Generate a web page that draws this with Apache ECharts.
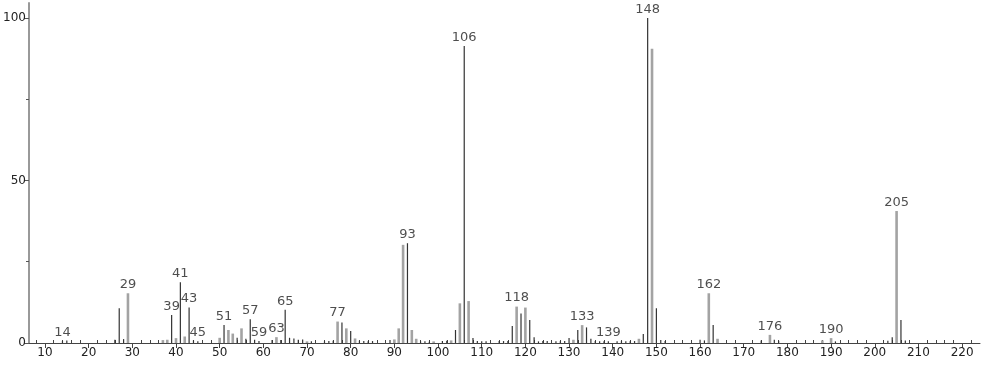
<!DOCTYPE html>
<html>
<head>
<meta charset="utf-8">
<script src="https://cdn.jsdelivr.net/npm/echarts@6/dist/echarts.min.js"></script>
<style>html,body{margin:0;padding:0;background:#fff}#c{width:982px;height:365px}</style>
</head>
<body>
<div id="c"></div>
<script>
// m/z values and relative intensities (dark thin peaks)
const darkMz = [14,15,26,27,28,39,41,43,44,45,51,54,56,57,58,59,62,64,65,66,67,68,69,71,74,75,76,78,80,82,83,84,85,89,93,96,97,98,101,102,104,106,108,109,110,111,114,115,116,117,119,121,122,123,124,125,127,128,129,130,132,134,135,136,137,138,139,141,142,143,144,145,147,148,150,151,152,160,161,163,174,177,178,191,203,204,206,207];
const darkInt = [0.6,0.8,1.0,10.7,1.2,8.6,18.7,10.9,0.8,0.5,5.5,1.6,1.3,7.3,1.0,0.6,0.9,0.9,10.2,1.6,1.4,1.0,1.1,0.5,0.5,0.6,0.7,6.3,3.7,0.7,0.6,0.5,0.6,0.9,30.7,0.5,0.5,0.4,0.6,0.7,4.0,91.4,1.5,0.6,0.5,0.5,0.6,0.6,0.6,5.2,9.1,7.1,1.8,0.5,0.6,0.6,0.5,0.5,0.6,1.5,4.0,4.8,1.3,0.6,0.5,0.5,0.5,0.5,0.6,0.5,0.5,0.6,2.8,100,10.7,0.9,0.6,1.0,0.8,5.5,0.8,1.0,0.7,0.5,0.7,1.8,7.1,0.8];
// m/z values and relative intensities (grey thick peaks)
const greyMz = [29,37,38,40,42,50,52,53,55,63,70,77,79,81,90,91,92,94,95,99,103,105,107,118,120,131,133,146,149,162,164,176,188,190,205];
const greyInt = [15.3,0.9,1.0,1.5,2.0,1.6,4.0,2.9,4.5,1.8,0.5,6.6,4.5,1.4,1.1,4.5,30.2,4.0,1.3,0.5,0.8,12.2,12.9,11.2,10.9,1.0,5.5,1.3,90.5,15.3,1.3,2.5,0.8,1.5,40.6];
// labelled peaks
const labelMz = [14,29,39,41,43,45,51,57,59,63,65,77,93,106,118,133,139,148,162,176,190,205];
// axis ticks
const xMajorTicks = [10,20,30,40,50,60,70,80,90,100,110,120,130,140,150,160,170,180,190,200,210,220];
const xMinorTicks = [8,12,14,16,18,22,24,26,28,32,34,36,38,42,44,46,48,52,54,56,58,62,64,66,68,72,74,76,78,82,84,86,88,92,94,96,98,102,104,106,108,112,114,116,118,122,124,126,128,132,134,136,138,142,144,146,148,152,154,156,158,162,164,166,168,172,174,176,178,182,184,186,188,192,194,196,198,202,204,206,208,212,214,216,218,222];
const yMajorTicks = [0,50,100];
const yMinorTicks = [25,75];

const darkData = darkMz.map((m,i)=>[m,darkInt[i]]);
const greyData = greyMz.map((m,i)=>[m,greyInt[i]]);
function heightAt(m){
  let h=0;
  darkMz.forEach((v,i)=>{ if(v===m) h=Math.max(h,darkInt[i]); });
  greyMz.forEach((v,i)=>{ if(v===m) h=Math.max(h,greyInt[i]); });
  return h;
}
const labelData = labelMz.map(m=>[m,heightAt(m)]);

function stick(width,color){
  return function(params,api){
    const top = api.coord([api.value(0),api.value(1)]);
    const base = api.coord([api.value(0),0]);
    return {type:'rect',shape:{x:top[0]-width/2,y:top[1],width:width,height:base[1]-top[1]},style:{fill:color}};
  };
}
const FONT = 'DejaVu Sans';
const XMIN = 6.34, XMAX = 224.1, YMAX = 104.6;
const chart = echarts.init(document.getElementById('c'),null,{renderer:'canvas'});
chart.setOption({
  animation:false,
  backgroundColor:'#fff',
  grid:{left:29,right:2,top:3,bottom:22},
  xAxis:[
    {type:'value',min:XMIN,max:XMAX,
     axisLine:{show:true,lineStyle:{color:'#444',width:1}},
     axisTick:{show:true,customValues:xMajorTicks,length:5,lineStyle:{color:'#444'}},
     axisLabel:{customValues:xMajorTicks,color:'#222',fontFamily:FONT,fontSize:12,margin:4},
     splitLine:{show:false}},
    {type:'value',min:XMIN,max:XMAX,position:'bottom',
     axisLine:{show:false},
     axisTick:{show:true,inside:true,customValues:xMinorTicks,length:3,lineStyle:{color:'#444'}},
     axisLabel:{show:false},splitLine:{show:false}}
  ],
  yAxis:[
    {type:'value',min:0,max:YMAX,
     axisLine:{show:true,lineStyle:{color:'#999',width:2}},
     axisTick:{show:true,customValues:yMajorTicks,length:5,lineStyle:{color:'#555'}},
     axisLabel:{customValues:yMajorTicks,color:'#222',fontFamily:FONT,fontSize:12,margin:3},
     splitLine:{show:false}},
    {type:'value',min:0,max:YMAX,position:'left',
     axisLine:{show:false},
     axisTick:{show:true,customValues:yMinorTicks,length:3,lineStyle:{color:'#555'}},
     axisLabel:{show:false},splitLine:{show:false}}
  ],
  series:[
    {type:'custom',name:'grey',xAxisIndex:0,yAxisIndex:0,data:greyData,renderItem:stick(2.6,'#a3a3a3'),silent:true},
    {type:'custom',name:'dark',xAxisIndex:0,yAxisIndex:0,data:darkData,renderItem:stick(1.2,'#333'),silent:true},
    {type:'scatter',xAxisIndex:0,yAxisIndex:0,data:labelData,symbolSize:0,silent:true,
     label:{show:true,position:'top',distance:2,formatter:p=>String(p.value[0]),color:'#222',fontFamily:FONT,fontSize:13}}
  ]
});
</script>
</body>
</html>
